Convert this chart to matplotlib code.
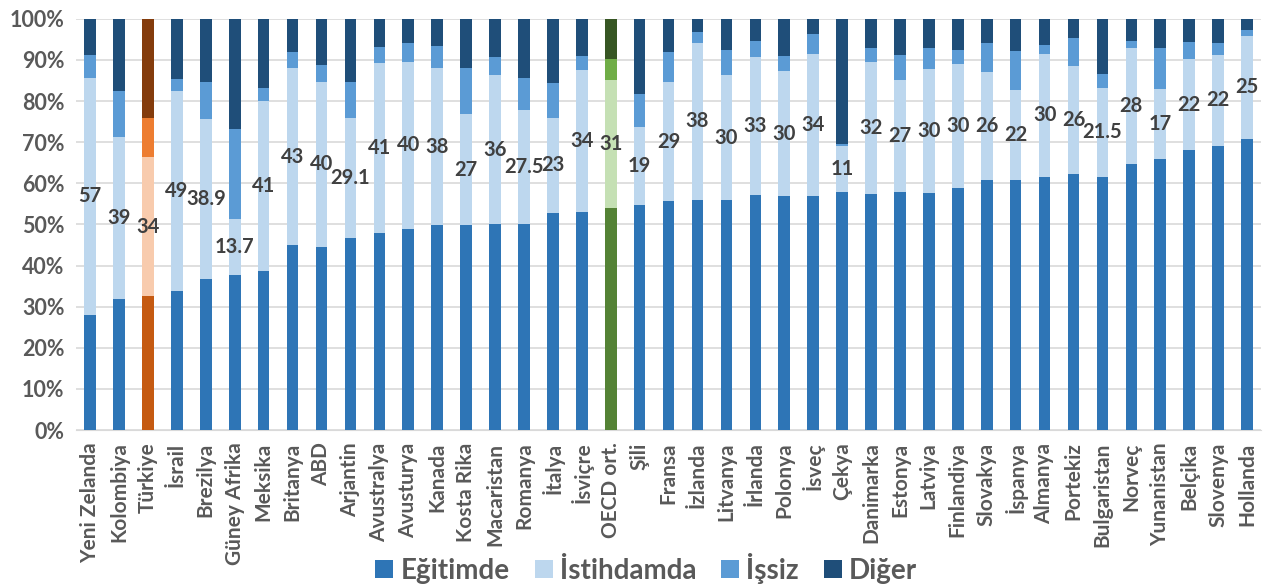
import matplotlib.pyplot as plt
import numpy as np

plt.rcParams['font.family'] = ['Lato', 'DejaVu Sans']
plt.rcParams['font.weight'] = 'bold'

countries = ["Yeni Zelanda", "Kolombiya", "Türkiye", "İsrail", "Brezilya", "Güney Afrika",
             "Meksika", "Britanya", "ABD", "Arjantin", "Avustralya", "Avusturya", "Kanada",
             "Kosta Rika", "Macaristan", "Romanya", "İtalya", "İsviçre", "OECD ort.", "Şili",
             "Fransa", "İzlanda", "Litvanya", "İrlanda", "Polonya", "İsveç", "Çekya",
             "Danimarka", "Estonya", "Latviya", "Finlandiya", "Slovakya", "İspanya", "Almanya",
             "Portekiz", "Bulgaristan", "Norveç", "Yunanistan", "Belçika", "Slovenya", "Hollanda"]

# yüzde paylar
egitimde = [28.0, 31.9, 32.5, 33.7, 36.7, 37.6, 38.8, 44.9, 44.6, 46.7, 48.0, 49.0, 49.8,
            49.8, 50.1, 50.1, 52.8, 53.1, 54.0, 54.7, 55.7, 55.9, 55.9, 57.2, 56.9, 57.0, 57.8,
            57.5, 57.8, 57.6, 58.9, 60.7, 60.7, 61.5, 62.3, 61.5, 64.8, 65.8, 68.0, 69.1, 70.8]
istihdamda = [57.7, 39.3, 33.9, 48.8, 38.9, 13.7, 41.1, 43.2, 40.0, 29.2, 41.3, 40.4, 38.2,
              27.0, 36.2, 27.7, 23.1, 34.5, 31.1, 19.1, 28.9, 38.3, 30.4, 33.4, 30.4, 34.4, 11.2,
              32.0, 27.2, 30.2, 30.2, 26.3, 22.1, 30.0, 26.2, 21.7, 28.0, 17.1, 22.2, 22.1, 25.1]
issiz = [5.4, 11.3, 9.5, 2.9, 9.0, 21.8, 3.2, 3.9, 4.2, 8.7, 3.9, 4.6, 5.4, 11.2, 4.4, 7.8,
         8.5, 3.4, 5.1, 8.0, 7.4, 2.5, 6.1, 4.0, 3.7, 4.8, 0.5, 3.5, 6.2, 5.0, 3.3, 7.1, 9.4,
         2.2, 6.7, 3.4, 1.9, 10.1, 4.1, 2.8, 1.4]
etiketler = ["57", "39", "34", "49", "38.9", "13.7", "41", "43", "40", "29.1", "41", "40", "38",
             "27", "36", "27.5", "23", "34", "31", "19", "29", "38", "30", "33", "30", "34", "11",
             "32", "27", "30", "30", "26", "22", "30", "26", "21.5", "28", "17", "22", "22", "25"]

egitimde = np.array(egitimde)
istihdamda = np.array(istihdamda)
issiz = np.array(issiz)
diger = 100 - egitimde - istihdamda - issiz

renkler = {'normal': ['#2E75B6', '#BDD7EE', '#5B9BD5', '#1F4E79'],
           'Türkiye': ['#C55A11', '#F8CBAD', '#ED7D31', '#843C0C'],
           'OECD ort.': ['#548235', '#C5E0B4', '#70AD47', '#375623']}

fig = plt.figure(figsize=(12.82, 5.86), dpi=100)
ax = fig.add_axes([0.059, 0.266, 0.925, 0.702])

x = np.arange(len(countries))
cols = [renkler.get(c, renkler['normal']) for c in countries]
w = 0.4
ax.bar(x, egitimde, w, color=[c[0] for c in cols], label='Eğitimde', zorder=3)
ax.bar(x, istihdamda, w, bottom=egitimde, color=[c[1] for c in cols], label='İstihdamda', zorder=3)
ax.bar(x, issiz, w, bottom=egitimde + istihdamda, color=[c[2] for c in cols], label='İşsiz', zorder=3)
ax.bar(x, diger, w, bottom=egitimde + istihdamda + issiz, color=[c[3] for c in cols], label='Diğer', zorder=3)

for i in range(len(countries)):
    ax.text(x[i], egitimde[i] + istihdamda[i] / 2, etiketler[i], ha='center', va='center',
            fontsize=14.5, fontweight='bold', color='#404040', zorder=4)

ax.set_xlim(-0.5, len(countries) - 0.5)
ax.set_ylim(0, 100)
ax.set_yticks(np.arange(0, 101, 10))
ax.set_yticklabels([f"{v}%" for v in range(0, 101, 10)], fontsize=15.5, color='#595959', fontweight='bold')
ax.set_xticks(x)
ax.set_xticklabels(countries, rotation=90, fontsize=15, color='#595959', fontweight='bold')
ax.tick_params(length=0)
ax.tick_params(axis='y', pad=8)
ax.tick_params(axis='x', pad=9)
ax.grid(axis='y', color='#D9D9D9', linewidth=1.2, zorder=0)
for s in ['top', 'right', 'left']:
    ax.spines[s].set_visible(False)
ax.spines['bottom'].set_color('#D9D9D9')

leg = fig.legend(loc='center', bbox_to_anchor=(0.504, 0.03), ncol=4, frameon=False,
                 prop={'size': 20, 'weight': 'bold'}, handlelength=0.65, handleheight=0.65,
                 columnspacing=0.9, handletextpad=0.25)
for t in leg.get_texts():
    t.set_color('#595959')

plt.savefig("out.png", dpi=100)
